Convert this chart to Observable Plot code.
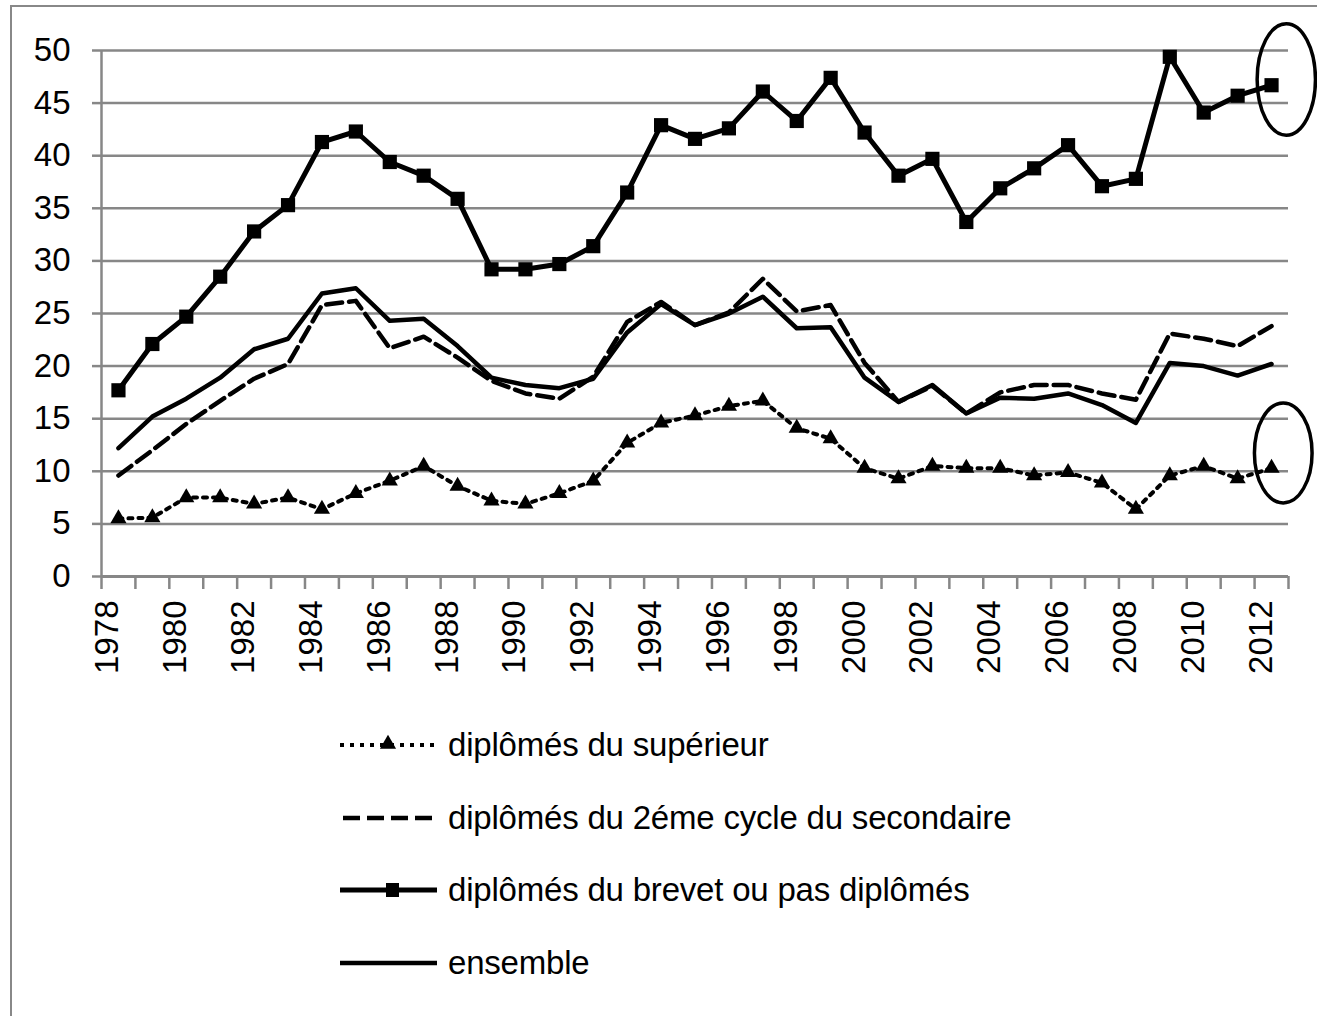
<!DOCTYPE html>
<html><head><meta charset="utf-8">
<script src="https://cdn.jsdelivr.net/npm/d3@7"></script>
<script src="https://cdn.jsdelivr.net/npm/@observablehq/plot@0.6"></script>
<style>
html,body{margin:0;padding:0;background:#fff;}
body{width:1317px;height:1016px;position:relative;overflow:hidden;font-family:"Liberation Sans",Arial,sans-serif;}
#frame{position:absolute;left:10px;top:5px;width:1400px;height:1100px;border-left:2.5px solid #888;border-top:2.5px solid #888;}
#chart{position:absolute;left:0;top:0;}
#chart svg{overflow:visible;}
.row{position:absolute;left:340px;height:40px;display:flex;align-items:center;}
.row svg{display:block;}
.row span{font-size:33px;color:#000;margin-left:8px;white-space:nowrap;letter-spacing:-0.2px;}
</style></head><body>
<div id="frame"></div>
<div id="chart"></div>
<div id="legend"></div>
<script>
const years = [1978,1979,1980,1981,1982,1983,1984,1985,1986,1987,1988,1989,1990,1991,1992,1993,1994,1995,1996,1997,1998,1999,2000,2001,2002,2003,2004,2005,2006,2007,2008,2009,2010,2011,2012];
const superieur = [5.5,5.6,7.5,7.5,6.9,7.5,6.4,7.9,9.1,10.5, 8.6,7.2,6.9,7.9,9.1,12.7,14.6,15.3,16.2,16.7, 14.1,13.1,10.3,9.3,10.5,10.3,10.3,9.6,9.9,8.9, 6.4,9.6,10.5,9.3,10.3];
const secondaire = [9.6,12.0,14.5,16.7,18.8,20.2,25.8,26.2,21.7,22.8, 20.8,18.6,17.4,16.9,19.0,24.2,26.1,23.9,25.1,28.3, 25.2,25.8,20.3,16.6,18.1,15.5,17.5,18.2,18.2,17.4, 16.8,23.1,22.6,21.9,23.8];
const brevet = [17.7,22.1,24.7,28.5,32.8,35.3,41.3,42.3,39.4,38.1, 35.9,29.2,29.2,29.7,31.4,36.5,42.9,41.6,42.6,46.1, 43.3,47.4,42.2,38.1,39.7,33.7,36.9,38.8,41.0,37.1, 37.8,49.4,44.1,45.7,46.7];
const ensemble = [12.2,15.2,16.9,18.9,21.6,22.6,26.9,27.4,24.3,24.5, 21.9,18.9,18.2,17.9,18.8,23.2,25.9,23.9,25.0,26.6, 23.6,23.7,18.9,16.6,18.2,15.5,17.0,16.9,17.4,16.3, 14.6,20.3,20.0,19.1,20.2];
const yTicks = [0,5,10,15,20,25,30,35,40,45,50];
const xLabels = [1978,1980,1982,1984,1986,1988,1990,1992,1994,1996,1998,2000,2002,2004,2006,2008,2010,2012];
const legendLabels = ["diplômés du supérieur","diplômés du 2éme cycle du secondaire","diplômés du brevet ou pas diplômés","ensemble"];
// annotation ellipses around the 2012 values
const ellipseYear = [2012, 2012];
const ellipseValue = [47.2, 11.7];

const rows = years.map((y,i)=>({year:y, sup:superieur[i], sec:secondaire[i], bre:brevet[i], ens:ensemble[i]}));
const boundaries = years.map(y=>y-0.5).concat([years[years.length-1]+0.5]);
const grid = "#878787";
const font = "Liberation Sans, Arial, sans-serif";

const chart = Plot.plot({
  width:1317, height:700,
  marginLeft:101, marginRight:29, marginTop:50, marginBottom:124,
  style:{background:"transparent", fontFamily:font, color:"#000"},
  x:{type:"linear", domain:[years[0]-0.5, years[years.length-1]+0.5]},
  y:{domain:[0,50]},
  marks:[
    Plot.ruleY(yTicks.filter(d=>d>0), {stroke:grid, strokeWidth:2.5}),
    Plot.ruleY([0], {stroke:grid, strokeWidth:3}),
    Plot.ruleX([years[0]-0.5], {stroke:grid, strokeWidth:2.5}),
    Plot.axisY({ticks:yTicks, tickSize:9, tickPadding:22, fontSize:33, stroke:grid, strokeWidth:2.5, fill:"#000", label:null, tickFormat:d=>String(d)}),
    Plot.axisX({ticks:boundaries, tickSize:13, stroke:grid, strokeWidth:2.5, tickFormat:()=>"", label:null}),
    Plot.text(xLabels, {x:d=>d, text:d=>String(d), frameAnchor:"bottom", dy:24, rotate:-90, textAnchor:"end", fontSize:33, fill:"#000"}),
    Plot.line(rows, {x:"year", y:"ens", stroke:"#000", strokeWidth:4.5}),
    Plot.line(rows, {x:"year", y:"sec", stroke:"#000", strokeWidth:4.5, strokeDasharray:"16,7"}),
    Plot.line(rows, {x:"year", y:"sup", stroke:"#000", strokeWidth:4, strokeDasharray:"4,6"}),
    Plot.dot(rows, {x:"year", y:"sup", symbol:"triangle", r:6, fill:"#000", stroke:"none"}),
    Plot.line(rows, {x:"year", y:"bre", stroke:"#000", strokeWidth:5}),
    Plot.dot(rows, {x:"year", y:"bre", symbol:"square", r:8, fill:"#000", stroke:"none"})
  ]
});
document.getElementById("chart").appendChild(chart);

// ellipses placed via the chart's own scales
const sx = chart.scale("x"), sy = chart.scale("y");
const bw = sx.apply(1979) - sx.apply(1978);
const unit = sy.apply(0) - sy.apply(1);
const ellipseDx = [0.45, 0.36], ellipseRx = [0.86, 0.85], ellipseRy = [5.3, 4.75];
ellipseYear.forEach((yr,i)=>{
  d3.select(chart).append("ellipse")
    .attr("cx", sx.apply(yr) + ellipseDx[i]*bw)
    .attr("cy", sy.apply(ellipseValue[i]))
    .attr("rx", ellipseRx[i]*bw)
    .attr("ry", ellipseRy[i]*unit)
    .attr("fill","none").attr("stroke","#000").attr("stroke-width",3.5);
});

// legend
const rowCenters = [745, 818, 890, 963];
const swatches = [
  `<svg width="100" height="30"><line x1="0" y1="15" x2="97" y2="15" stroke="#000" stroke-width="4" stroke-dasharray="4,6"/><path d="${d3.symbol(d3.symbolTriangle, 6*6*Math.PI)()}" transform="translate(48,14)" fill="#000"/></svg>`,
  `<svg width="100" height="30"><line x1="3" y1="15" x2="97" y2="15" stroke="#000" stroke-width="4.5" stroke-dasharray="17,7"/></svg>`,
  `<svg width="100" height="30"><line x1="0" y1="15" x2="97" y2="15" stroke="#000" stroke-width="5"/><rect x="46" y="8" width="13" height="14" fill="#000"/></svg>`,
  `<svg width="100" height="30"><line x1="0" y1="15" x2="97" y2="15" stroke="#000" stroke-width="4.5"/></svg>`
];
const leg = document.getElementById("legend");
legendLabels.forEach((lab,i)=>{
  const div = document.createElement("div");
  div.className = "row";
  div.style.top = (rowCenters[i]-20)+"px";
  div.innerHTML = swatches[i] + `<span>${lab}</span>`;
  leg.appendChild(div);
});
</script>
</body></html>
